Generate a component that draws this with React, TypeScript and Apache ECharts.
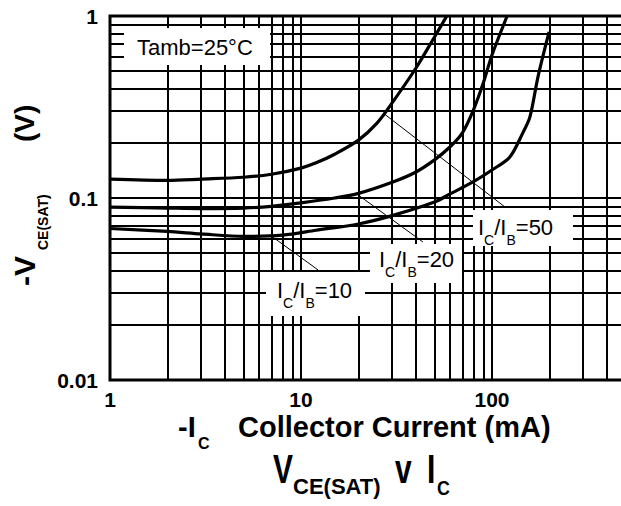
import React, { useEffect, useRef } from 'react';
import * as echarts from 'echarts';

// ---- data ----
const xMin = 1;
const xMax = 500;
const yMin = 0.01;
const yMax = 1;

const xGridValues = [2, 3, 4, 5, 6, 7, 8, 9, 10, 20, 30, 40, 50, 60, 70, 80, 90, 100, 200, 300, 400];
const yGridValues = [0.02, 0.03, 0.04, 0.05, 0.06, 0.07, 0.08, 0.09, 0.1, 0.2, 0.3, 0.4, 0.5, 0.6, 0.7, 0.8, 0.9];

const ratio10Current = [1, 2, 3, 5, 8, 12, 20, 30, 50, 60, 80, 100, 124, 145, 158, 174, 199];
const ratio10Vce = [0.068, 0.0655, 0.0635, 0.0615, 0.0625, 0.0665, 0.072, 0.08, 0.095, 0.105, 0.123, 0.1425, 0.168, 0.228, 0.279, 0.462, 0.817];

const ratio20Current = [1, 2, 3, 5, 7, 10, 15, 20, 30, 40, 50, 60, 70, 80, 90, 100, 120];
const ratio20Vce = [0.089, 0.088, 0.0875, 0.088, 0.09, 0.094, 0.1, 0.106, 0.122, 0.139, 0.162, 0.19, 0.228, 0.305, 0.428, 0.61, 1.0];

const ratio50Current = [1, 2, 3, 5, 7, 10, 12, 15, 20, 25, 30, 40, 50, 58];
const ratio50Vce = [0.127, 0.125, 0.127, 0.13, 0.135, 0.146, 0.156, 0.174, 0.208, 0.258, 0.333, 0.518, 0.767, 1.0];

const leader10Current = [6.88, 12.3];
const leader10Vce = [0.0626, 0.0402];
const leader20Current = [19.9, 43.5];
const leader20Vce = [0.104, 0.0573];
const leader50Current = [26.9, 117];
const leader50Vce = [0.293, 0.0892];

const FONT = "'Liberation Sans', Arial, sans-serif";

const zip = (xs: number[], ys: number[]) => xs.map((x, i) => [x, ys[i]]);

let measureCtx: CanvasRenderingContext2D | null = null;
function measure(text: string, size: number, weight: string) {
  if (!measureCtx) {
    const c = document.createElement('canvas');
    measureCtx = c.getContext('2d');
  }
  if (!measureCtx) return text.length * size * 0.55;
  measureCtx.font = `${weight} ${size}px ${FONT}`;
  return measureCtx.measureText(text).width;
}

type Seg = { t: string; sub?: boolean };

function textEl(text: string, x: number, y: number, size: number, weight: string, extra: any = {}) {
  return {
    type: 'text',
    x,
    y,
    z: 60,
    ...extra,
    style: {
      text,
      fontSize: size,
      fontWeight: weight,
      fontFamily: FONT,
      fill: '#000',
      textAlign: 'left',
      align: 'left',
      textVerticalAlign: 'middle',
      verticalAlign: 'middle',
    },
  };
}

function segLabel(x0: number, yc: number, segs: Seg[], mainSize: number, subSize: number, subDy: number, weight: string, subWeight: string) {
  const els: any[] = [];
  let x = x0;
  for (const s of segs) {
    const size = s.sub ? subSize : mainSize;
    const w = s.sub ? subWeight : weight;
    els.push(textEl(s.t, x, s.sub ? yc + subDy : yc, size, w));
    x += measure(s.t, size, w);
  }
  return els;
}

const ratioSegs = (n: string): Seg[] => [
  { t: 'I' },
  { t: 'C', sub: true },
  { t: '/I' },
  { t: 'B', sub: true },
  { t: '=' + n },
];

export default function App() {
  const ref = useRef<HTMLDivElement>(null);

  useEffect(() => {
    if (!ref.current) return;
    const chart = echarts.init(ref.current, undefined, { renderer: 'svg' });

    const curveStyle = { color: '#000', width: 3.2 };
    const leaderStyle = { color: '#000', width: 1 };

    const graphic: any[] = [
      // white label boxes
      { type: 'rect', z: 50, shape: { x: 124, y: 28, width: 146, height: 37 }, style: { fill: '#fff' } },
      { type: 'rect', z: 50, shape: { x: 473, y: 210, width: 100, height: 36 }, style: { fill: '#fff' } },
      { type: 'rect', z: 50, shape: { x: 370, y: 244, width: 92, height: 39 }, style: { fill: '#fff' } },
      { type: 'rect', z: 50, shape: { x: 266, y: 272, width: 99, height: 44 }, style: { fill: '#fff' } },
      textEl('Tamb=25°C', 137, 47, 22, 'normal'),
      ...segLabel(478, 227, ratioSegs('50'), 22, 14, 13, 'normal', 'normal'),
      ...segLabel(379, 259, ratioSegs('20'), 22, 14, 13, 'normal', 'normal'),
      ...segLabel(277, 290, ratioSegs('10'), 22, 14, 13, 'normal', 'normal'),
      // x axis title
      textEl('-I', 178, 427, 29, 'bold'),
      textEl('C', 198, 443, 16, 'bold'),
      textEl('Collector Current (mA)', 238, 427, 29, 'bold'),
      // bottom title
      textEl('V', 273, 469, 40, 'bold', { scaleX: 0.75 }),
      textEl('CE(SAT)', 293, 486, 22, 'bold'),
      textEl('v', 395, 469, 40, 'bold', { scaleX: 0.75 }),
      textEl('I', 427, 469, 40, 'bold', { scaleX: 0.75 }),
      textEl('C', 437, 487, 21, 'bold', { scaleX: 0.85 }),
      // y axis title (rotated)
      {
        type: 'group',
        x: 24,
        y: 286,
        rotation: Math.PI / 2,
        z: 60,
        children: [
          textEl('-V', 0, 0, 30, 'bold'),
          textEl('CE(SAT)', 36, 18.5, 14, 'bold'),
          textEl('(V)', 144, 0, 28, 'bold'),
        ],
      },
    ];

    const isPow10 = (v: number) => {
      const l = Math.log10(v);
      return Math.abs(l - Math.round(l)) < 1e-6;
    };

    const curve = (name: string, xs: number[], ys: number[]) => ({
      type: 'line',
      name,
      data: zip(xs, ys),
      showSymbol: false,
      symbol: 'none',
      smooth: 0.3,
      lineStyle: curveStyle,
      z: 3,
    });

    chart.setOption({
      animation: false,
      backgroundColor: '#fff',
      grid: {
        left: 110,
        top: 16,
        width: 515.5,
        height: 364,
        show: true,
        borderColor: '#000',
        borderWidth: 3,
        backgroundColor: 'transparent',
      },
      xAxis: {
        type: 'log',
        logBase: 10,
        min: xMin,
        max: xMax,
        axisLine: { show: false },
        axisTick: { show: false },
        splitLine: { show: false },
        axisLabel: {
          margin: 9,
          fontSize: 21,
          fontWeight: 'bold',
          fontFamily: FONT,
          color: '#000',
          formatter: (v: number) => (isPow10(v) ? String(Math.round(v)) : ''),
        },
      },
      yAxis: {
        type: 'log',
        logBase: 10,
        min: yMin,
        max: yMax,
        axisLine: { show: false },
        axisTick: { show: false },
        splitLine: { show: false },
        axisLabel: {
          margin: 12,
          fontSize: 21,
          fontWeight: 'bold',
          fontFamily: FONT,
          color: '#000',
          formatter: (v: number) => String(+v.toPrecision(3)),
        },
      },
      graphic,
      series: [
        {
          type: 'line',
          name: 'grid',
          data: [],
          z: 1,
          silent: true,
          markLine: {
            silent: true,
            symbol: ['none', 'none'],
            label: { show: false },
            lineStyle: { color: '#000', width: 2, type: 'solid' },
            emphasis: { disabled: true },
            data: [
              ...xGridValues.map((v) => ({ xAxis: v })),
              ...yGridValues.map((v) => ({ yAxis: v })),
            ],
          },
        },
        curve('IC/IB=10', ratio10Current, ratio10Vce),
        curve('IC/IB=20', ratio20Current, ratio20Vce),
        curve('IC/IB=50', ratio50Current, ratio50Vce),
        { type: 'line', data: zip(leader10Current, leader10Vce), showSymbol: false, symbol: 'none', lineStyle: leaderStyle, z: 2 },
        { type: 'line', data: zip(leader20Current, leader20Vce), showSymbol: false, symbol: 'none', lineStyle: leaderStyle, z: 2 },
        { type: 'line', data: zip(leader50Current, leader50Vce), showSymbol: false, symbol: 'none', lineStyle: leaderStyle, z: 2 },
      ],
    });

    return () => chart.dispose();
  }, []);

  return (
    <div style={{ position: 'fixed', left: 0, top: 0, width: 621, height: 506, overflow: 'hidden', background: '#fff' }}>
      <div ref={ref} style={{ width: 640, height: 506 }} />
    </div>
  );
}
